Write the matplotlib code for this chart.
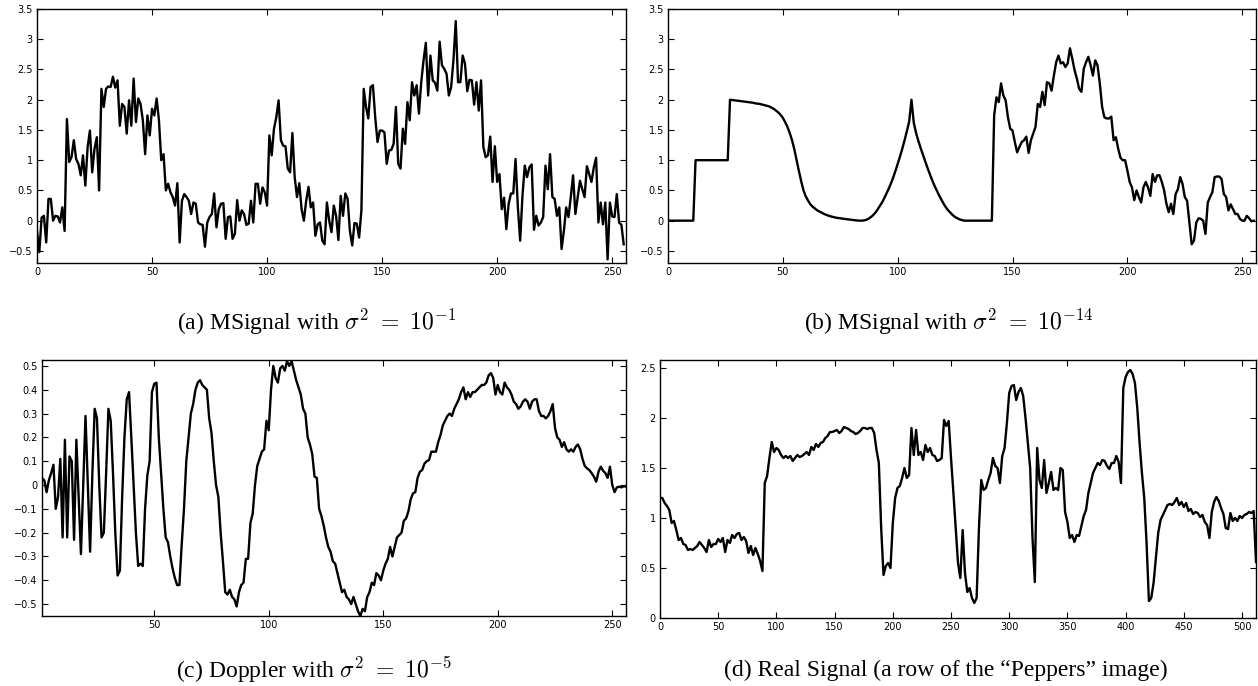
import numpy as np
import matplotlib
matplotlib.use("Agg")
import matplotlib.pyplot as plt
from matplotlib.ticker import FuncFormatter

plt.rcParams['mathtext.fontset'] = 'cm'
plt.rcParams['font.family'] = 'DejaVu Sans'

# (a) MSignal, sigma^2 = 1e-1  (samples 0..255)
msig_noisy = [
    -0.17, -0.52, 0.05, 0.08, -0.36, 0.36, 0.36, 0.0, 0.08, 0.07,
    -0.03, 0.22, -0.17, 1.68, 0.97, 1.05, 1.33, 1.02, 0.94, 0.75,
    1.08, 0.58, 1.22, 1.49, 0.8, 1.19, 1.38, 0.5, 2.18, 1.88,
    2.18, 2.22, 2.21, 2.38, 2.2, 2.32, 1.57, 1.93, 1.88, 1.44,
    1.99, 1.57, 2.35, 1.63, 2.02, 1.93, 1.66, 1.1, 1.74, 1.41,
    1.85, 1.74, 2.02, 1.66, 1.0, 1.1, 0.5, 0.61, 0.47, 0.39,
    0.25, 0.62, -0.36, 0.33, 0.44, 0.39, 0.33, 0.11, 0.3, 0.28,
    -0.03, -0.06, -0.07, -0.43, -0.03, 0.06, 0.11, 0.45, -0.11, 0.19,
    0.28, 0.29, -0.3, 0.06, 0.07, -0.3, -0.22, 0.34, 0.0, 0.17,
    0.11, -0.07, -0.05, 0.33, -0.03, 0.61, 0.61, 0.28, 0.55, 0.47,
    0.25, 1.41, 1.08, 1.52, 1.71, 1.99, 1.33, 1.24, 1.23, 0.86,
    0.8, 1.45, 0.72, 0.39, 0.62, 0.19, 0.0, 0.33, 0.56, 0.22,
    0.3, -0.25, -0.06, -0.03, -0.33, -0.39, 0.3, 0.0, -0.19, 0.25,
    0.08, -0.32, 0.41, 0.08, 0.45, 0.36, -0.17, -0.41, -0.04, -0.05,
    -0.28, 0.17, 2.18, 1.88, 1.69, 2.21, 2.24, 1.71, 1.3, 1.49,
    1.49, 1.46, 0.94, 1.16, 1.17, 1.27, 1.88, 0.94, 0.86, 1.52,
    1.27, 1.96, 1.66, 2.29, 2.07, 2.24, 1.77, 2.29, 2.65, 2.94,
    2.07, 2.73, 2.32, 2.28, 2.15, 2.96, 2.57, 2.51, 2.43, 2.07,
    2.21, 2.65, 3.3, 2.29, 2.29, 2.73, 2.6, 2.14, 2.33, 2.32,
    1.92, 2.29, 1.82, 2.32, 1.22, 1.05, 1.08, 1.39, 0.64, 1.23,
    0.64, 0.77, 0.19, 0.38, -0.14, 0.28, 0.45, 0.45, 1.02, 0.22,
    -0.33, 0.41, 0.91, 0.72, 0.88, 0.93, -0.15, 0.08, -0.08, -0.03,
    0.06, 0.91, 0.52, 1.1, 0.39, 0.36, 0.08, 0.22, -0.47, -0.17,
    0.22, 0.06, 0.39, 0.75, 0.11, 0.39, 0.66, 0.52, 0.39, 0.9,
    0.77, 0.64, 0.88, 1.04, -0.03, 0.3, -0.06, 0.3, -0.64, 0.3,
    0.07, 0.06, 0.44, -0.03, -0.07, -0.39,
]

# (b) MSignal, sigma^2 = 1e-14  (samples 0..255)
msig_clean = [0.0] * 12 + [1.0] * 15 + [
    2.0, 1.995, 1.99, 1.985, 1.98, 1.975, 1.97, 1.965, 1.96, 1.955,
    1.95, 1.94, 1.935, 1.93, 1.92, 1.91, 1.9, 1.89, 1.87, 1.85,
    1.82, 1.79, 1.75, 1.7, 1.63, 1.55, 1.45, 1.33, 1.18, 1.0,
    0.82, 0.65, 0.5, 0.4, 0.33, 0.27, 0.23, 0.2, 0.17, 0.15,
    0.13, 0.11, 0.095, 0.08, 0.07, 0.06, 0.05, 0.045, 0.04, 0.033,
    0.028, 0.022, 0.017, 0.012, 0.008, 0.004, 0.001, 0.0, 0.002, 0.01,
    0.025, 0.05, 0.08, 0.12, 0.17, 0.23, 0.29, 0.36, 0.44, 0.52,
    0.61, 0.71, 0.82, 0.94, 1.06, 1.19, 1.33, 1.48, 1.64, 2.0,
    1.62, 1.45, 1.32, 1.2, 1.09, 0.98, 0.87, 0.77, 0.67, 0.58,
    0.5, 0.42, 0.35, 0.28, 0.22, 0.17, 0.13, 0.09, 0.06, 0.04,
    0.02, 0.01, 0.0,
] + [0.0] * 12 + [
    1.74, 2.04, 1.96, 2.27, 2.07, 1.99, 1.71, 1.52, 1.49, 1.3,
    1.13, 1.22, 1.3, 1.33, 1.39, 1.12, 1.33, 1.44, 1.55, 1.93,
    1.88, 2.13, 1.91, 2.29, 2.27, 2.15, 2.4, 2.62, 2.73, 2.6,
    2.62, 2.54, 2.6, 2.85, 2.68, 2.49, 2.35, 2.18, 2.13, 2.51,
    2.62, 2.71, 2.57, 2.4, 2.65, 2.57, 2.27, 1.88, 1.71, 1.69,
    1.69, 1.72, 1.33, 1.38, 1.19, 1.04, 1.0, 1.0, 0.83, 0.64,
    0.55, 0.34, 0.5, 0.39, 0.3, 0.55, 0.64, 0.55, 0.41, 0.77,
    0.64, 0.75, 0.75, 0.64, 0.5, 0.28, 0.14, 0.28, 0.11, 0.44,
    0.52, 0.72, 0.61, 0.39, 0.33, -0.03, -0.39, -0.33, -0.03, 0.04,
    0.03, 0.0, -0.22, 0.3, 0.39, 0.47, 0.72, 0.73, 0.73, 0.69,
    0.44, 0.39, 0.17, 0.27, 0.19, 0.11, 0.11, 0.03, 0.0, 0.0,
    0.08, 0.04, -0.01, 0.0,
]

# (c) Doppler, sigma^2 = 1e-5  (samples 1..256)
doppler = [
    0.03, 0.02, -0.03, 0.02, 0.05, 0.085, -0.1, -0.05, 0.11, -0.22,
    0.19, -0.22, 0.12, 0.1, -0.23, 0.19, -0.05, -0.29, 0.0, 0.29,
    0.0, -0.28, 0.05, 0.32, 0.28, 0.0, -0.22, -0.2, 0.05, 0.32,
    0.27, 0.05, -0.2, -0.38, -0.36, -0.05, 0.2, 0.36, 0.39, 0.2,
    0.0, -0.2, -0.34, -0.33, -0.34, -0.1, 0.04, 0.1, 0.39, 0.425,
    0.43, 0.2, 0.05, -0.1, -0.22, -0.24, -0.3, -0.35, -0.39, -0.42,
    -0.42, -0.25, -0.1, 0.1, 0.2, 0.3, 0.34, 0.4, 0.43, 0.44,
    0.42, 0.41, 0.4, 0.28, 0.22, 0.1, 0.0, -0.05, -0.2, -0.32,
    -0.45, -0.46, -0.44, -0.47, -0.48, -0.51, -0.45, -0.42, -0.41, -0.31,
    -0.31, -0.16, -0.12, 0.0, 0.08, 0.11, 0.14, 0.15, 0.27, 0.23,
    0.4, 0.5, 0.45, 0.43, 0.49, 0.5, 0.48, 0.52, 0.5, 0.52,
    0.48, 0.44, 0.41, 0.38, 0.32, 0.3, 0.2, 0.17, 0.13, 0.035,
    0.03, -0.1, -0.13, -0.17, -0.22, -0.26, -0.28, -0.32, -0.33, -0.37,
    -0.41, -0.45, -0.44, -0.47, -0.48, -0.5, -0.47, -0.5, -0.53, -0.55,
    -0.52, -0.53, -0.47, -0.45, -0.41, -0.42, -0.37, -0.38, -0.4, -0.36,
    -0.33, -0.31, -0.26, -0.3, -0.26, -0.22, -0.21, -0.2, -0.15, -0.14,
    -0.11, -0.06, -0.035, -0.03, 0.03, 0.056, 0.063, 0.09, 0.1, 0.105,
    0.14, 0.14, 0.14, 0.18, 0.21, 0.25, 0.27, 0.29, 0.3, 0.29,
    0.32, 0.34, 0.36, 0.39, 0.41, 0.36, 0.39, 0.37, 0.39, 0.39,
    0.4, 0.41, 0.42, 0.42, 0.43, 0.46, 0.47, 0.45, 0.38, 0.42,
    0.39, 0.38, 0.43, 0.41, 0.4, 0.38, 0.35, 0.34, 0.32, 0.33,
    0.35, 0.36, 0.35, 0.32, 0.35, 0.36, 0.36, 0.31, 0.29, 0.29,
    0.28, 0.29, 0.31, 0.34, 0.24, 0.2, 0.19, 0.16, 0.18, 0.15,
    0.14, 0.15, 0.14, 0.16, 0.17, 0.15, 0.11, 0.08, 0.07, 0.063,
    0.05, 0.035, 0.014, 0.056, 0.077, 0.06, 0.05, 0.03, 0.077, 0.0,
    -0.03, -0.01, -0.007, -0.01, -0.005, -0.007,
]

# (d) row of the "Peppers" image, read every 2nd sample (0..512)
peppers_x = list(range(0, 513, 2))
peppers = [
    1.2, 1.2, 1.15, 1.12, 1.08, 0.95, 0.97, 0.88, 0.78, 0.8,
    0.74, 0.73, 0.68, 0.69, 0.68, 0.7, 0.72, 0.76, 0.73, 0.7,
    0.66, 0.78, 0.71, 0.74, 0.74, 0.79, 0.76, 0.8, 0.66, 0.78,
    0.75, 0.83, 0.8, 0.84, 0.85, 0.78, 0.81, 0.77, 0.65, 0.72,
    0.63, 0.7, 0.64, 0.57, 0.47, 1.35, 1.42, 1.6, 1.76, 1.66,
    1.7, 1.68, 1.63, 1.6, 1.62, 1.6, 1.62, 1.57, 1.6, 1.63,
    1.61, 1.62, 1.64, 1.66, 1.63, 1.71, 1.68, 1.74, 1.71, 1.75,
    1.76, 1.8, 1.82, 1.86, 1.86, 1.87, 1.88, 1.85, 1.87, 1.91,
    1.9, 1.89, 1.87, 1.86, 1.84, 1.85, 1.87, 1.9, 1.9, 1.89,
    1.9, 1.9, 1.85, 1.68, 1.55, 0.9, 0.43, 0.52, 0.55, 0.5,
    0.95, 1.2, 1.3, 1.32, 1.4, 1.5, 1.4, 1.43, 1.9, 1.63,
    1.88, 1.63, 1.66, 1.58, 1.73, 1.66, 1.7, 1.63, 1.62, 1.57,
    1.58, 1.6, 1.98, 1.92, 1.97, 1.6, 1.26, 0.9, 0.55, 0.4,
    0.88, 0.45, 0.26, 0.3, 0.2, 0.15, 0.2, 0.9, 1.38, 1.28,
    1.3, 1.38, 1.45, 1.6, 1.52, 1.5, 1.35, 1.62, 1.7, 1.95,
    2.25, 2.32, 2.33, 2.18, 2.26, 2.3, 2.22, 2.0, 1.75, 1.5,
    0.8, 0.36, 1.7, 1.38, 1.3, 1.58, 1.25, 1.35, 1.46, 1.28,
    1.3, 1.28, 1.5, 1.48, 1.06, 0.96, 0.8, 0.83, 0.76, 0.83,
    0.82, 0.92, 1.02, 1.08, 1.25, 1.35, 1.45, 1.5, 1.55, 1.53,
    1.58, 1.57, 1.52, 1.49, 1.55, 1.55, 1.62, 1.56, 1.35, 2.3,
    2.41, 2.46, 2.48, 2.44, 2.35, 2.1, 1.75, 1.45, 1.2, 0.75,
    0.17, 0.2, 0.35, 0.6, 0.85, 0.98, 1.03, 1.08, 1.13, 1.14,
    1.13, 1.16, 1.2, 1.13, 1.16, 1.11, 1.15, 1.07, 1.09, 1.04,
    1.06, 1.05, 1.01, 1.03, 0.96, 0.93, 0.8, 1.06, 1.16, 1.21,
    1.17, 1.1, 1.04, 0.9, 0.89, 1.05, 0.97, 1.0, 0.97, 1.02,
    1.0, 1.03, 1.04, 1.06, 1.05, 1.07, 0.56,
]

captions = [
    r'(a) MSignal with $\sigma^2 \ = \ 10^{-1}$',
    r'(b) MSignal with $\sigma^2 \ = \ 10^{-14}$',
    r'(c) Doppler with $\sigma^2 \ = \ 10^{-5}$',
    '(d) Real Signal (a row of the \u201cPeppers\u201d image)',
]

fig = plt.figure(figsize=(12.58, 6.86), dpi=100)

W, H = 1258.0, 686.0
def add_axes(l, t, r, b):
    return fig.add_axes([l / W, 1 - b / H, (r - l) / W, (b - t) / H])

ax_a = add_axes(37, 9, 626, 263)
ax_b = add_axes(668, 9, 1256, 263)
ax_c = add_axes(42, 360, 626, 616)
ax_d = add_axes(660, 360, 1256, 618)

ax_a.plot(np.arange(len(msig_noisy)), msig_noisy, color='black', lw=1.7)
ax_b.plot(np.arange(len(msig_clean)), msig_clean, color='black', lw=1.7)
ax_c.plot(np.arange(1, len(doppler) + 1), doppler, color='black', lw=1.7)
ax_d.plot(peppers_x[:len(peppers)], peppers, color='black', lw=1.7)


def tick_fmt(v, pos):
    v = round(v, 2) + 0.0
    return ('%g' % v).replace('-', '\u2212')


fmt = FuncFormatter(tick_fmt)

for ax in (ax_a, ax_b):
    ax.set_xlim(0, 256)
    ax.set_ylim(-0.7, 3.5)
    ax.set_xticks([0, 50, 100, 150, 200, 250])
    ax.set_yticks(np.arange(-0.5, 3.51, 0.5))

ax_c.set_xlim(1, 256)
ax_c.set_ylim(-0.55, 0.525)
ax_c.set_xticks([50, 100, 150, 200, 250])
ax_c.set_yticks(np.arange(-0.5, 0.51, 0.1))

ax_d.set_xlim(0, 512)
ax_d.set_ylim(0, 2.58)
ax_d.set_xticks(np.arange(0, 501, 50))
ax_d.set_yticks(np.arange(0, 2.51, 0.5))

for ax in (ax_a, ax_b, ax_c, ax_d):
    ax.xaxis.set_major_formatter(fmt)
    ax.yaxis.set_major_formatter(fmt)
    ax.tick_params(direction='in', top=True, right=True, length=4,
                   width=0.8, labelsize=7, pad=3)
    for s in ax.spines.values():
        s.set_linewidth(1.0)

cap_pos = [(317, 322), (949, 322), (314, 670), (946, 670)]
for (cx, cy), txt in zip(cap_pos, captions):
    fig.text(cx / W, 1 - cy / H, txt, ha='center', va='center',
             fontsize=17, family='Liberation Serif')

fig.savefig('out.png', dpi=100)
